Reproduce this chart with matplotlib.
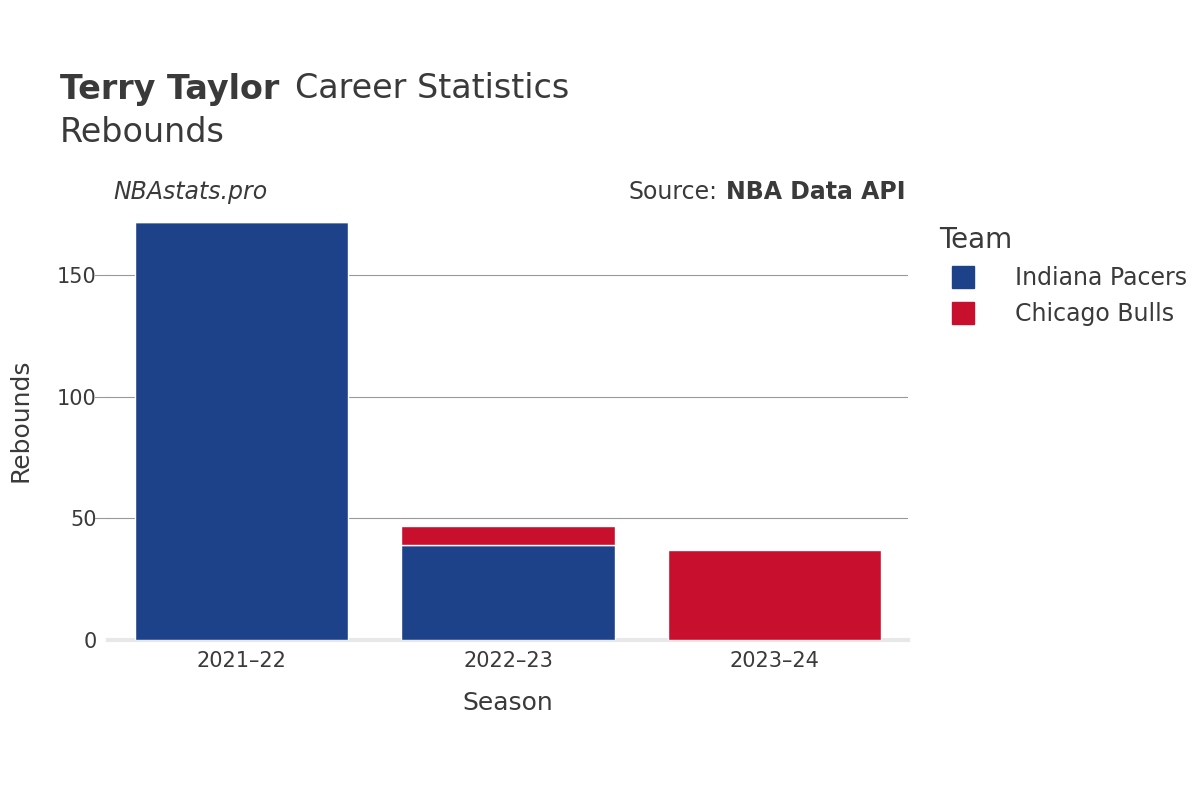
import matplotlib
matplotlib.use("Agg")
import matplotlib.pyplot as plt
from matplotlib.lines import Line2D

seasons = ["2021\u201322", "2022\u201323", "2023\u201324"]
pacers = [172, 39, 0]
bulls = [0, 8, 37]
yticks = [0, 50, 100, 150]

PACERS = "#1d4289"
BULLS = "#c8102e"
TXT = "#3a3a3a"

plt.rcParams["font.family"] = "DejaVu Sans"
fig = plt.figure(figsize=(12, 8), dpi=100)
ax = fig.add_axes([108 / 1200, 1 - 640 / 800, 800 / 1200, 440 / 800])

x = range(len(seasons))
ax.bar(x, pacers, width=0.8, color=PACERS, edgecolor="white", linewidth=1, zorder=3)
ax.bar(x, bulls, bottom=pacers, width=0.8, color=BULLS, edgecolor="white", linewidth=1, zorder=3)

ax.set_xlim(-0.5, 2.5)
ax.set_ylim(0, 181)
ax.set_yticks(yticks)
ax.set_xticks(list(x))
ax.set_xticklabels(seasons)
ax.tick_params(axis="both", labelsize=15, colors=TXT, length=0, pad=8)
ax.grid(axis="y", color="#999999", linewidth=0.8, zorder=0)
for s in ["top", "right", "left"]:
    ax.spines[s].set_visible(False)
ax.spines["bottom"].set_color("#e8e8ea")
ax.spines["bottom"].set_linewidth(3)
for t in yticks[1:]:
    ax.plot([-0.55, -0.5], [t, t], color="#999999", lw=0.8, clip_on=False)
ax.set_xlabel("Season", fontsize=18, color=TXT, labelpad=14)
ax.set_ylabel("Rebounds", fontsize=18, color=TXT, labelpad=18)

fig.text(60 / 1200, 1 - 89 / 800, "Terry Taylor", fontsize=24, weight="bold", color=TXT, va="center")
fig.text(295 / 1200, 1 - 89 / 800, "Career Statistics", fontsize=24, color=TXT, va="center")
fig.text(60 / 1200, 1 - 132 / 800, "Rebounds", fontsize=24, color=TXT, va="center")
fig.text(113 / 1200, 1 - 192 / 800, "NBAstats.pro", fontsize=17, style="italic", color=TXT, va="center")
fig.text(722 / 1200, 1 - 192 / 800, "NBA Data API", fontsize=17, weight="bold", color=TXT, va="center", ha="center", x=None) if False else None
fig.text(905 / 1200, 1 - 192 / 800, "NBA Data API", fontsize=17, weight="bold", color=TXT, va="center", ha="right")
fig.text(717 / 1200, 1 - 192 / 800, "Source:", fontsize=17, color=TXT, va="center", ha="right")

handles = [Line2D([], [], marker="s", ls="", markersize=16, color=PACERS),
           Line2D([], [], marker="s", ls="", markersize=16, color=BULLS)]
leg = fig.legend(handles, ["Indiana Pacers", "Chicago Bulls"], title="Team",
                 loc="upper left", bbox_to_anchor=(918 / 1200, 1 - 205 / 800),
                 frameon=False, fontsize=17, title_fontsize=20, handletextpad=1.2,
                 labelspacing=0.5, alignment="left")
for t in leg.get_texts():
    t.set_color(TXT)
leg.get_title().set_color(TXT)

fig.savefig("out.png", dpi=100)
